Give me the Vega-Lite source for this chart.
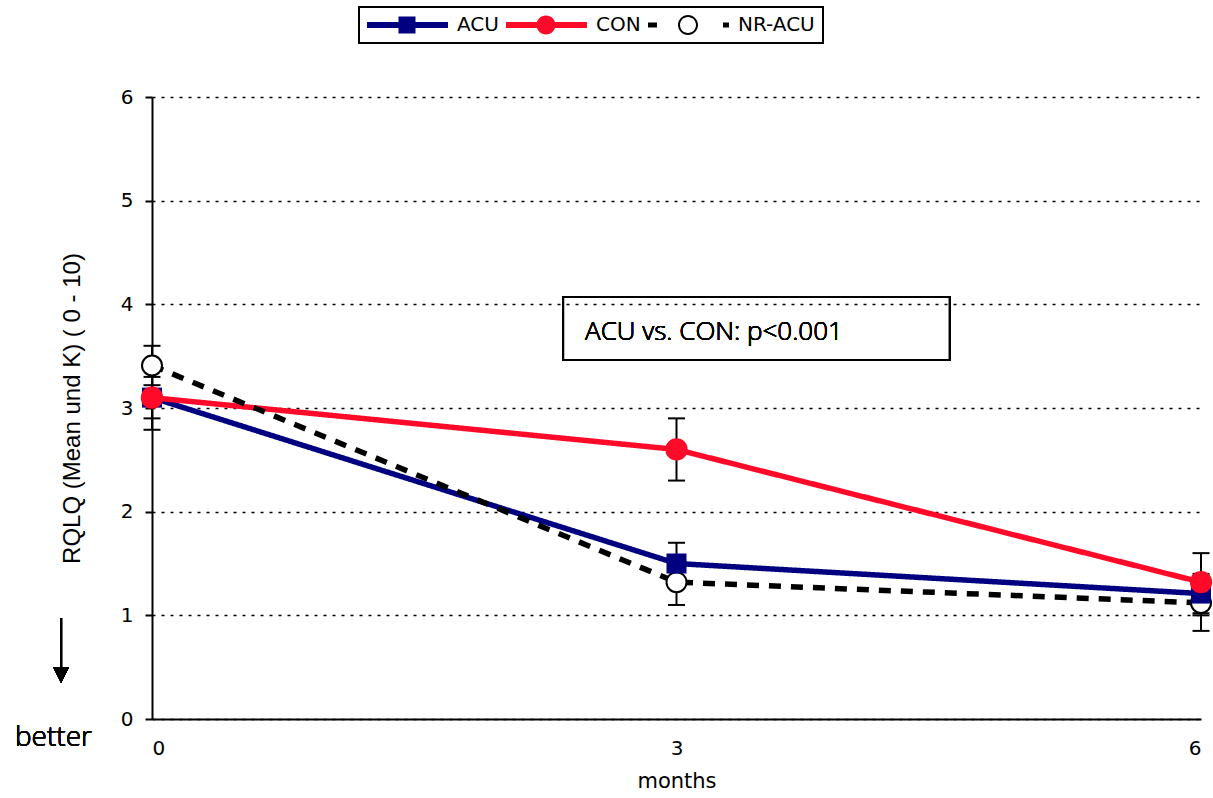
{
  "$schema": "https://vega.github.io/schema/vega-lite/v6.json",
  "width": 1049,
  "height": 622,
  "autosize": {"type": "none"},
  "padding": {"left": 152, "top": 97, "right": 12, "bottom": 79},
  "background": "white",
  "config": {"view": {"stroke": null}, "font": "DejaVu Sans"},
  "data": {"values": [
    {"series": "ACU", "month": 0, "mean": 3.1, "lo": 2.9, "hi": 3.3},
    {"series": "ACU", "month": 3, "mean": 1.5, "lo": 1.3, "hi": 1.7},
    {"series": "ACU", "month": 6, "mean": 1.21, "lo": 1.0, "hi": 1.4},
    {"series": "CON", "month": 0, "mean": 3.1, "lo": 2.79, "hi": 3.4},
    {"series": "CON", "month": 3, "mean": 2.6, "lo": 2.3, "hi": 2.9},
    {"series": "CON", "month": 6, "mean": 1.32, "lo": 1.02, "hi": 1.6},
    {"series": "NR-ACU", "month": 0, "mean": 3.41, "lo": 3.22, "hi": 3.6},
    {"series": "NR-ACU", "month": 3, "mean": 1.32, "lo": 1.1, "hi": 1.54},
    {"series": "NR-ACU", "month": 6, "mean": 1.12, "lo": 0.85, "hi": 1.38}
  ]},
  "encoding": {
    "x": {
      "field": "month", "type": "quantitative",
      "scale": {"domain": [0, 6], "nice": false},
      "axis": {
        "values": [0, 3, 6], "ticks": false, "tickSize": 0, "grid": false,
        "title": "months", "labelFontSize": 20, "titleFontSize": 21,
        "titleFontWeight": "normal", "domainColor": "black", "domainWidth": 2,
        "labelColor": "black", "titleColor": "black", "labelPadding": 19, "titlePadding": 12,
        "labelFont": "DejaVu Sans", "titleFont": "DejaVu Sans"
      }
    },
    "y": {
      "field": "mean", "type": "quantitative",
      "scale": {"domain": [0, 6], "nice": false},
      "axis": {
        "values": [0, 1, 2, 3, 4, 5, 6], "tickSize": 7, "tickWidth": 2, "tickColor": "black",
        "domainColor": "black", "domainWidth": 2, "grid": true, "gridDash": [3, 6],
        "gridColor": "black", "gridWidth": 1.5, "gridOpacity": 1,
        "labelFontSize": 20, "labelColor": "black", "labelPadding": 12, "labelFont": "DejaVu Sans",
        "title": "RQLQ (Mean und K) ( 0 - 10)", "titleFont": "Liberation Sans",
        "titleFontSize": 24, "titleFontWeight": "normal", "titleColor": "black", "titlePadding": 36
      }
    }
  },
  "layer": [
    {
      "mark": {"type": "rule", "color": "black", "strokeWidth": 2},
      "encoding": {"y": {"field": "lo", "type": "quantitative"}, "y2": {"field": "hi"}}
    },
    {
      "mark": {"type": "point", "shape": "stroke", "size": 289, "stroke": "black", "strokeWidth": 2, "filled": false, "opacity": 1},
      "encoding": {"y": {"field": "lo", "type": "quantitative"}}
    },
    {
      "mark": {"type": "point", "shape": "stroke", "size": 289, "stroke": "black", "strokeWidth": 2, "filled": false, "opacity": 1},
      "encoding": {"y": {"field": "hi", "type": "quantitative"}}
    },
    {
      "mark": {"type": "line", "strokeWidth": 5.5, "strokeCap": "butt"},
      "encoding": {
        "color": {
          "field": "series", "type": "nominal",
          "scale": {"domain": ["ACU", "CON", "NR-ACU"], "range": ["#000080", "#ff0a28", "black"]},
          "legend": {
            "title": null, "orient": "none", "legendX": 207, "legendY": -90,
            "direction": "horizontal", "symbolSize": 100, "symbolStrokeWidth": 0,
            "labelOffset": 70, "columnPadding": 7, "padding": 8,
            "strokeColor": "black", "labelFontSize": 20, "labelFont": "DejaVu Sans", "labelColor": "black",
            "encode": {
              "legend": {"update": {"strokeWidth": {"value": 2}}},
              "symbols": {"update": {
                "shape": {"signal": "datum.value === 'ACU' ? 'M-2,-0.6H14.2V0.6H-2Z M4.3,-1.7H7.7V1.7H4.3Z' : datum.value === 'CON' ? 'M-2,-0.6H14.2V0.6H-2Z M7.9,0A1.9,1.9 0 1,1 4.1,0A1.9,1.9 0 1,1 7.9,0Z' : 'M-2,-0.5H-0.2V0.5H-2Z M13,-0.5H14.2V0.5H13Z M8,0A2,2 0 1,1 4,0A2,2 0 1,1 8,0Z M7.6,0A1.6,1.6 0 1,0 4.4,0A1.6,1.6 0 1,0 7.6,0Z'"},
                "fill": {"signal": "datum.value === 'ACU' ? '#000080' : datum.value === 'CON' ? '#ff0a28' : 'black'"},
                "stroke": {"value": "transparent"},
                "strokeWidth": {"value": 0},
                "strokeDash": {"value": []},
                "opacity": {"value": 1},
                "size": {"value": 100}
              }}
            }
          }
        },
        "strokeDash": {
          "field": "series", "type": "nominal",
          "scale": {"domain": ["ACU", "CON", "NR-ACU"], "range": [[1, 0], [1, 0], [12, 10]]},
          "legend": null
        }
      }
    },
    {
      "transform": [{"filter": "datum.series === 'NR-ACU'"}],
      "mark": {"type": "point", "shape": "circle", "size": 400, "filled": true, "fill": "white", "stroke": "black", "strokeWidth": 2, "opacity": 1}
    },
    {
      "transform": [{"filter": "datum.series === 'ACU'"}],
      "mark": {"type": "point", "shape": "square", "size": 400, "filled": true, "fill": "#000080", "strokeWidth": 0, "opacity": 1}
    },
    {
      "transform": [{"filter": "datum.series === 'CON'"}],
      "mark": {"type": "point", "shape": "circle", "size": 500, "filled": true, "fill": "#ff0a28", "strokeWidth": 0, "opacity": 1}
    },
    {
      "mark": {"type": "rect", "fill": null, "fillOpacity": 0, "stroke": "black", "strokeWidth": 2},
      "encoding": {
        "x": {"datum": 2.351}, "x2": {"datum": 4.564},
        "y": {"datum": 4.071}, "y2": {"datum": 3.463}
      }
    },
    {
      "mark": {"type": "text", "text": "ACU vs. CON: p<0.001", "font": "Open Sans", "fontWeight": 300, "fontSize": 26, "align": "left", "baseline": "alphabetic", "color": "black"},
      "encoding": {"x": {"datum": 2.477}, "y": {"datum": 3.66}}
    },
    {
      "mark": {"type": "text", "text": "better", "font": "Open Sans", "fontWeight": 300, "fontSize": 28, "align": "left", "baseline": "alphabetic", "color": "black"},
      "encoding": {"x": {"datum": -0.784}, "y": {"datum": -0.26}}
    },
    {
      "mark": {"type": "rule", "color": "black", "strokeWidth": 2},
      "encoding": {"x": {"datum": -0.52}, "y": {"datum": 0.974}, "y2": {"datum": 0.45}}
    },
    {
      "mark": {"type": "point", "shape": "M-1,-1L1,-1L0,1Z", "size": 256, "filled": true, "fill": "black", "strokeWidth": 0, "opacity": 1},
      "encoding": {"x": {"datum": -0.52}, "y": {"datum": 0.424}}
    }
  ]
}
